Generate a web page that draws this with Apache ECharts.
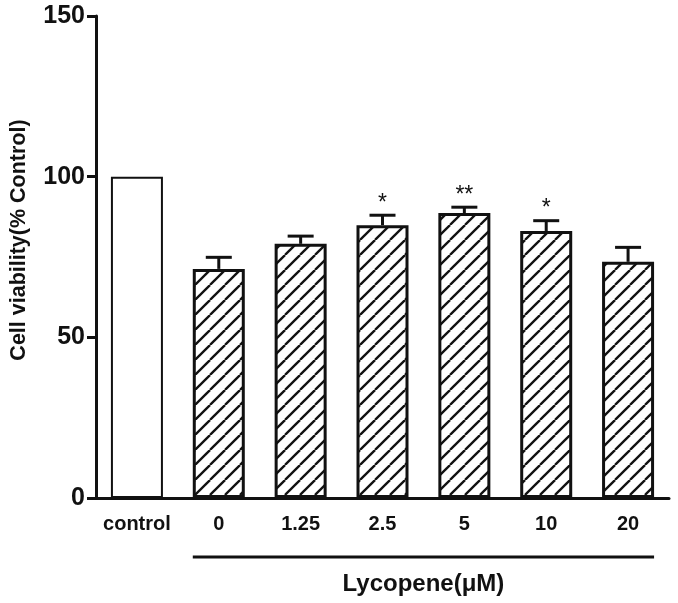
<!DOCTYPE html>
<html>
<head>
<meta charset="utf-8">
<script src="https://cdn.jsdelivr.net/npm/echarts@6/dist/echarts.min.js"></script>
<style>
  html, body { margin: 0; padding: 0; background: #fff; }
  #chart { width: 678px; height: 603px; }
</style>
</head>
<body>
<div id="chart"></div>
<script>
// data
const categories = ['control', '0', '1.25', '2.5', '5', '10', '20'];
const viability = [100, 71.3, 79.1, 84.9, 88.7, 83.1, 73.5];
const sem = [0, 3.6, 2.4, 3.1, 1.8, 3.2, 4.5];
const marks = ['', '', '', '*', '**', '*', ''];
const yTicks = [0, 50, 100, 150];

const FONT = "'Liberation Sans', Arial, sans-serif";

// diagonal hatch tile for the lycopene bars
function hatchTile() {
  const s = 15;
  const c = document.createElement('canvas');
  c.width = s;
  c.height = s;
  const ctx = c.getContext('2d');
  ctx.fillStyle = '#fff';
  ctx.fillRect(0, 0, s, s);
  ctx.strokeStyle = '#111';
  ctx.lineWidth = 2.3;
  [-s, 0, s].forEach((o) => {
    ctx.beginPath();
    ctx.moveTo(o, s);
    ctx.lineTo(o + s, 0);
    ctx.stroke();
  });
  return c;
}
const hatch = { image: hatchTile(), repeat: 'repeat' };

const chart = echarts.init(document.getElementById('chart'));

chart.setOption({
  animation: false,
  grid: { left: 89, right: 9, top: 16, bottom: 105, containLabel: false },
  xAxis: {
    type: 'category',
    data: categories,
    axisLine: { lineStyle: { color: '#111', width: 3 } },
    axisTick: { show: false },
    axisLabel: { interval: 0, color: '#111', fontFamily: FONT, fontWeight: 'bold', fontSize: 20, margin: 16 }
  },
  yAxis: {
    type: 'value',
    min: yTicks[0],
    max: yTicks[yTicks.length - 1],
    interval: 50,
    name: 'Cell viability(% Control)',
    nameLocation: 'middle',
    nameGap: 66,
    nameTextStyle: { color: '#111', fontFamily: FONT, fontWeight: 'bold', fontSize: 21.5, padding: [0, 0, 0, 34] },
    splitLine: { show: false },
    axisLine: { show: true, lineStyle: { color: '#111', width: 3 } },
    axisTick: { show: true, length: 9, lineStyle: { color: '#111', width: 3 } },
    axisLabel: { color: '#111', fontFamily: FONT, fontWeight: 'bold', fontSize: 25, margin: 11 }
  },
  series: [
    {
      type: 'bar',
      barWidth: 52,
      data: viability.map((v, i) => ({
        value: v,
        itemStyle: i === 0
          ? { color: '#fff', borderColor: '#111', borderWidth: 2 }
          : { color: hatch, borderColor: '#111', borderWidth: 3 }
      }))
    },
    {
      type: 'custom',
      z: 5,
      data: viability.map((v, i) => [i, v, sem[i]]),
      renderItem(params, api) {
        const i = api.value(0);
        const mean = api.value(1);
        const err = api.value(2);
        if (!err) return null;
        const p0 = api.coord([i, mean]);
        const p1 = api.coord([i, mean + err]);
        const style = { stroke: '#111', lineWidth: 3 };
        const children = [
          { type: 'line', shape: { x1: p0[0], y1: p0[1], x2: p1[0], y2: p1[1] }, style },
          { type: 'line', shape: { x1: p1[0] - 13, y1: p1[1], x2: p1[0] + 13, y2: p1[1] }, style }
        ];
        if (marks[i]) {
          children.push({
            type: 'text',
            style: {
              x: p1[0], y: p1[1] - 12,
              text: marks[i],
              fill: '#111',
              font: '23px ' + FONT,
              align: 'center',
              verticalAlign: 'middle'
            }
          });
        }
        return { type: 'group', children };
      }
    }
  ]
});

// bracket under the lycopene doses and its caption
const xa = chart.convertToPixel({ xAxisIndex: 0 }, categories[1]);
const xb = chart.convertToPixel({ xAxisIndex: 0 }, categories[categories.length - 1]);
chart.setOption({
  graphic: [
    {
      type: 'line',
      shape: { x1: xa - 26, y1: 557, x2: xb + 26, y2: 557 },
      style: { stroke: '#111', lineWidth: 3 }
    },
    {
      type: 'text',
      x: (xa + xb) / 2,
      y: 584,
      style: {
        text: 'Lycopene(\u03bcM)',
        fill: '#111',
        font: 'bold 24px ' + FONT,
        align: 'center',
        verticalAlign: 'middle'
      }
    }
  ]
});

window.onresize = () => {
  chart.resize();
};
</script>
</body>
</html>
